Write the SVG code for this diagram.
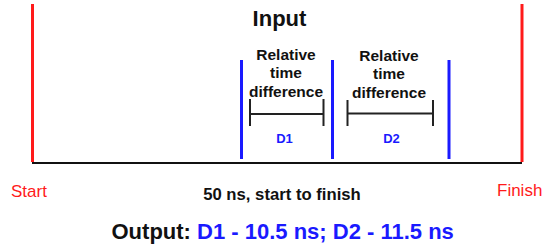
<svg xmlns="http://www.w3.org/2000/svg" width="550" height="248" viewBox="0 0 550 248">
<style>
.red{stroke:#ff1a1a;stroke-width:3;fill:none}
.blue{stroke:#1a1aff;stroke-width:3;fill:none}
.blk{stroke:#111;stroke-width:2;fill:none}
.br{stroke:#222;stroke-width:2;fill:none}
text{font-family:"Liberation Sans",Arial,sans-serif}
.b{font-weight:bold}
.rt{font-size:15.5px;font-weight:bold;fill:#111;text-anchor:middle}
.dl{font-size:13px;font-weight:bold;fill:#1a1aff;text-anchor:middle}
.se{font-size:17px;fill:#ff1a1a}
</style>
<rect width="550" height="248" fill="#fff"/>
<g id="connectors">
<line class="blk" x1="32" y1="163" x2="522" y2="163"/>
<line class="red" x1="32.5" y1="4" x2="32.5" y2="162"/>
<line class="red" x1="522" y1="4" x2="522" y2="162"/>
<line class="blue" x1="241.5" y1="60" x2="241.5" y2="159"/>
<line class="blue" x1="332.5" y1="60" x2="332.5" y2="159"/>
<line class="blue" x1="449" y1="60" x2="449" y2="159"/>
</g>
<g id="title"><text x="279.5" y="26" font-size="22" class="b" text-anchor="middle" fill="#111">Input</text></g>
<g id="d1">
<text class="rt" x="286" y="60">Relative</text>
<text class="rt" x="286" y="78">time</text>
<text class="rt" x="286" y="96.5">difference</text>
<path class="br" d="M250 99V126M323.5 99V126M250 114H323.5"/>
<text class="dl" x="284.5" y="143">D1</text>
</g>
<g id="d2">
<text class="rt" x="389" y="61">Relative</text>
<text class="rt" x="389" y="79">time</text>
<text class="rt" x="389" y="97.5">difference</text>
<path class="br" d="M347.5 100V126M433 100V126M347.5 113.5H433"/>
<text class="dl" x="391.5" y="143">D2</text>
</g>
<g id="start"><text class="se" x="11" y="196.5">Start</text></g>
<g id="finish"><text class="se" x="497" y="195.5">Finish</text></g>
<g id="duration"><text x="282" y="200" font-size="16.7" class="b" text-anchor="middle" fill="#111">50 ns, start to finish</text></g>
<g id="output"><text x="111.5" y="238.5" font-size="22" class="b" fill="#111">Output: <tspan fill="#1a1aff">D1 - 10.5 ns; D2 - 11.5 ns</tspan></text></g>
</svg>
